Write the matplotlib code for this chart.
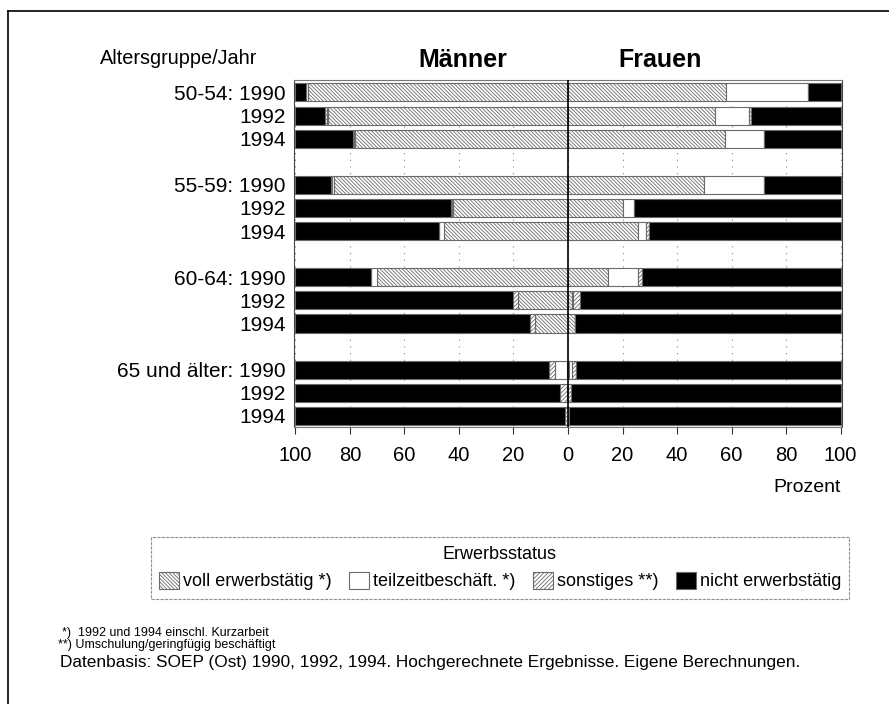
import matplotlib
matplotlib.use("Agg")
import matplotlib.pyplot as plt
from matplotlib.lines import Line2D
import numpy as np

plt.rcParams['font.family'] = ['Liberation Sans', 'DejaVu Sans']
plt.rcParams['hatch.linewidth'] = 0.6

# ---- data -------------------------------------------------------------
row_labels = ["50-54: 1990", "1992", "1994",
              "55-59: 1990", "1992", "1994",
              "60-64: 1990", "1992", "1994",
              "65 und älter: 1990", "1992", "1994"]
row_pos = [0, 1, 2, 4, 5, 6, 8, 9, 10, 12, 13, 14]

# Männer (percent)
voll_m = [95.5, 88.0, 78.0, 86.0, 42.0, 45.5, 70.0, 18.5, 12.0, 0.5, 0.5, 0.0]
teil_m = [0.5, 0.5, 0.5, 0.7, 0.5, 1.8, 2.3, 0.0, 0.0, 4.3, 0.0, 0.0]
sonst_m = [0.0, 0.5, 0.5, 0.3, 0.5, 0.0, 0.0, 1.5, 2.0, 2.0, 2.5, 1.0]
nicht_m = [4.0, 11.0, 21.0, 13.0, 57.0, 52.7, 27.7, 80.0, 86.0, 93.2, 97.0, 99.0]

# Frauen (percent)
voll_f = [58.0, 54.0, 57.5, 49.7, 20.2, 25.5, 14.5, 1.5, 2.5, 0.5, 0.0, 0.0]
teil_f = [30.0, 12.5, 14.5, 22.3, 3.9, 3.0, 11.0, 0.5, 0.0, 1.0, 0.0, 0.0]
sonst_f = [0.0, 0.7, 0.0, 0.0, 0.0, 1.2, 1.5, 2.5, 0.0, 1.5, 1.0, 0.5]
nicht_f = [12.0, 32.8, 28.0, 28.0, 75.9, 70.3, 73.0, 95.5, 97.5, 97.0, 99.0, 99.5]

categories = ["voll erwerbstätig *)", "teilzeitbeschäft. *)",
              "sonstiges **)", "nicht erwerbstätig"]
x_ticks = [-100, -80, -60, -40, -20, 0, 20, 40, 60, 80, 100]

# ---- styles -----------------------------------------------------------
styles = [dict(color='white', edgecolor='#6a6a6a', hatch='\\' * 9),
          dict(color='white', edgecolor='#6a6a6a', hatch=None),
          dict(color='white', edgecolor='#6a6a6a', hatch='/' * 8),
          dict(color='black', edgecolor='#6a6a6a', hatch=None)]

W, H = 889, 704
fig = plt.figure(figsize=(W / 100, H / 100), dpi=100)
ax = fig.add_axes([294 / W, 1 - 427 / H, 548 / W, 347 / H])

men = [voll_m, teil_m, sonst_m, nicht_m]
women = [voll_f, teil_f, sonst_f, nicht_f]
bh = 0.78
handles = []
cum_m = np.zeros(len(row_pos))
cum_f = np.zeros(len(row_pos))
for vals_m, vals_f, st, lab in zip(men, women, styles, categories):
    vm = np.array(vals_m)
    vf = np.array(vals_f)
    b = ax.barh(row_pos, -vm, left=-cum_m, height=bh, color=st['color'],
                edgecolor=st['edgecolor'], hatch=st['hatch'], linewidth=0.8,
                label=lab, zorder=2)
    ax.barh(row_pos, vf, left=cum_f, height=bh, color=st['color'],
            edgecolor=st['edgecolor'], hatch=st['hatch'], linewidth=0.8,
            zorder=2)
    cum_m += vm
    cum_f += vf
    handles.append(b)

ax.axvline(0, color='black', lw=1.2, zorder=3)

ax.set_xlim(-100.5, 100.5)
ax.set_ylim(14.48, -0.54)
ax.set_xticks(x_ticks)
ax.set_xticklabels([str(abs(t)) for t in x_ticks], fontsize=14.5)
ax.set_yticks(row_pos)
ax.set_yticklabels(row_labels, fontsize=15)
ax.tick_params(axis='y', length=0, pad=6)
ax.tick_params(axis='x', direction='out', length=5, width=0.8, pad=9,
               color='#333333')
ax.grid(axis='x', linestyle=(0, (1, 5)), color='#888888', lw=0.8, zorder=1)
ax.set_axisbelow(True)
for s in ['left', 'right']:
    ax.spines[s].set_linewidth(0.8)
    ax.spines[s].set_color('#444444')
for s in ['top', 'bottom']:
    ax.spines[s].set_linewidth(0.8)
    ax.spines[s].set_color('#777777')
    ax.spines[s].set_linestyle((0, (3, 1)))

# headings
fig.text(100 / W, 1 - 58 / H, "Altersgruppe/Jahr", fontsize=14.3,
         ha='left', va='center')
fig.text(463 / W, 1 - 60 / H, "Männer", fontsize=18, fontweight='bold',
         ha='center', va='center')
fig.text(660 / W, 1 - 60 / H, "Frauen", fontsize=18, fontweight='bold',
         ha='center', va='center')
fig.text(841 / W, 1 - 487 / H, "Prozent", fontsize=14, ha='right',
         va='center')

# legend
leg = fig.legend(handles, categories, ncol=4, loc='center',
                 bbox_to_anchor=(500 / W, 1 - 568 / H), title="Erwerbsstatus",
                 fontsize=13, title_fontsize=13, frameon=True, fancybox=False,
                 edgecolor='#777777', handlelength=1.1, handleheight=1.1,
                 handletextpad=0.2, columnspacing=1.0, borderpad=0.45,
                 borderaxespad=0)
leg.get_frame().set_linewidth(0.8)
leg.get_frame().set_linestyle((0, (3, 1)))

# footnotes
fig.text(62 / W, 1 - 633 / H, "*)  1992 und 1994 einschl. Kurzarbeit",
         fontsize=9, ha='left', va='center')
fig.text(58 / W, 1 - 645 / H, "**) Umschulung/geringfügig beschäftigt",
         fontsize=9, ha='left', va='center')
fig.text(60 / W, 1 - 662 / H,
         "Datenbasis: SOEP (Ost) 1990, 1992, 1994. Hochgerechnete Ergebnisse. Eigene Berechnungen.",
         fontsize=12.4, ha='left', va='center')

# page frame
fig.add_artist(Line2D([8 / W, 8 / W], [0, 1 - 11 / H], transform=fig.transFigure,
                      color='black', lw=1.2))
fig.add_artist(Line2D([8 / W, 1], [1 - 11 / H, 1 - 11 / H],
                      transform=fig.transFigure, color='black', lw=1.2))

fig.savefig("out.png", dpi=100)
